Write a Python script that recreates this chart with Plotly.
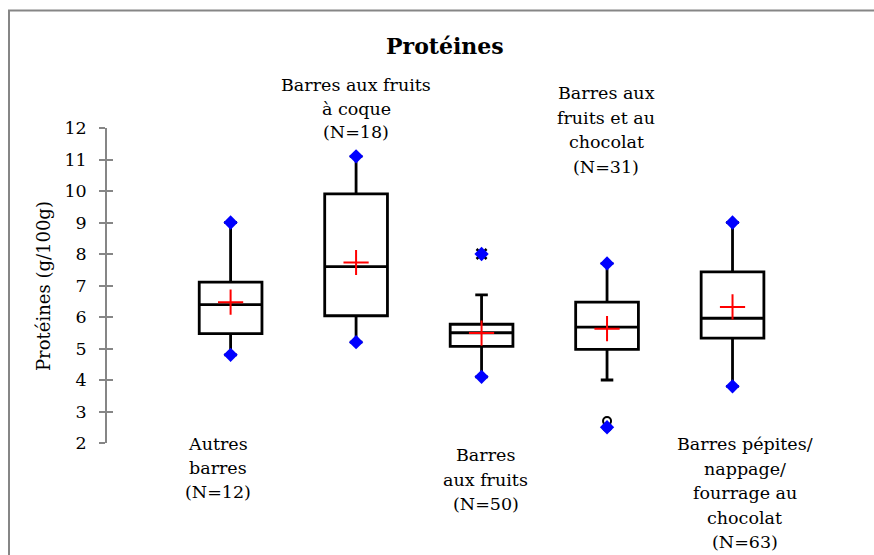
import plotly.graph_objects as go

# ---------------- data ----------------
categories = ["Autres barres", "Barres aux fruits à coque", "Barres aux fruits",
              "Barres aux fruits et au chocolat", "Barres pépites/nappage/fourrage au chocolat"]
label_lines = [
    ["Autres", "barres", "(N=12)"],
    ["Barres aux fruits", "à coque", "(N=18)"],
    ["Barres", "aux fruits", "(N=50)"],
    ["Barres aux", "fruits et au", "chocolat", "(N=31)"],
    ["Barres pépites/", "nappage/", "fourrage au", "chocolat", "(N=63)"],
]
q1 = [5.47, 6.04, 5.07, 4.97, 5.33]
median = [6.39, 7.60, 5.50, 5.68, 5.96]
q3 = [7.11, 9.91, 5.77, 6.47, 7.43]
lower_whisker = [4.8, 5.2, 4.1, 4.0, 3.8]
upper_whisker = [9.0, 11.1, 6.7, 7.7, 9.0]
means = [6.47, 7.73, 5.49, 5.63, 6.32]
minimum = [4.8, 5.2, 4.1, 2.5, 3.8]
maximum = [9.0, 11.1, 8.0, 7.7, 9.0]
outlier_x_cat = [2]
outlier_x_val = [8.0]
outlier_o_cat = [3, 3]
outlier_o_val = [2.7, 2.5]
y_ticks = [2, 3, 4, 5, 6, 7, 8, 9, 10, 11, 12]

# ---------------- layout helpers ----------------
W, H = 874, 555
ML, MR, MT, MB = 107, 16, 128, 112
PW, PH = W - ML - MR, H - MT - MB
FONT = "DejaVu Serif"
GRAY = "#868686"

def px_x(px):
    return (px - ML) / PW

def px_y(py):
    return (H - MB - py) / PH

xidx = list(range(len(categories)))

fig = go.Figure()

fig.add_trace(go.Box(
    x=xidx, q1=q1, median=median, q3=q3,
    lowerfence=lower_whisker, upperfence=upper_whisker,
    width=0.5, whiskerwidth=0.2,
    fillcolor="rgba(255,255,255,0)",
    line=dict(color="black", width=2.8),
    boxpoints=False, showlegend=False, hoverinfo="skip",
))

# outliers
fig.add_trace(go.Scatter(
    x=outlier_x_cat, y=outlier_x_val, mode="markers",
    marker=dict(symbol="x-thin", size=10, color="black", line=dict(color="black", width=2.5)),
    showlegend=False, cliponaxis=False,
))
fig.add_trace(go.Scatter(
    x=outlier_o_cat, y=outlier_o_val, mode="markers",
    marker=dict(symbol="circle-open", size=8, color="black", line=dict(color="black", width=2)),
    showlegend=False, cliponaxis=False,
))

# min / max
fig.add_trace(go.Scatter(
    x=xidx + xidx, y=minimum + maximum, mode="markers",
    marker=dict(symbol="diamond", size=11, color="#0000ff", line=dict(width=0)),
    showlegend=False, cliponaxis=False,
))

# means
fig.add_trace(go.Scatter(
    x=xidx, y=means, mode="markers",
    marker=dict(symbol="cross-thin", size=18, color="#ff0000", line=dict(color="#ff0000", width=2)),
    showlegend=False, cliponaxis=False,
))

# ---------------- annotations ----------------
label_shift = [-13, 0, 4, -1, 12]
label_top = [444, 84.5, 455, 93, 444]
line_gap = [24, 24, 24.5, 24.7, 24.5]
annotations = []
for i, lines in enumerate(label_lines):
    for j, t in enumerate(lines):
        annotations.append(dict(
            x=i, xref="x", xshift=label_shift[i],
            y=px_y(label_top[i] + j * line_gap[i]), yref="paper",
            text=t, showarrow=False, xanchor="center", yanchor="middle",
            font=dict(family=FONT, size=17.5, color="black"),
        ))
annotations.append(dict(
    x=px_x(445), y=px_y(46), xref="paper", yref="paper",
    text="<b>Protéines</b>", showarrow=False, xanchor="center", yanchor="middle",
    font=dict(family=FONT, size=22, color="black"),
))
annotations.append(dict(
    x=px_x(43), y=px_y(286), xref="paper", yref="paper",
    text="Protéines (g/100g)", textangle=-90, showarrow=False,
    xanchor="center", yanchor="middle",
    font=dict(family=FONT, size=18, color="black"),
))

fig.update_layout(
    width=W, height=H,
    margin=dict(l=ML, r=MR, t=MT, b=MB),
    paper_bgcolor="white", plot_bgcolor="white",
    showlegend=False,
    annotations=annotations,
    xaxis=dict(range=[-0.985, 5], visible=False, fixedrange=True),
    yaxis=dict(
        range=[2, 12], tickvals=y_ticks, ticks="outside", ticklen=6,
        tickwidth=1.5, tickcolor=GRAY, showline=True, linecolor=GRAY,
        linewidth=1.5, showgrid=False, zeroline=False,
        ticklabelstandoff=9,
        tickfont=dict(family=FONT, size=17.5, color="black"),
    ),
    yaxis2=dict(
        range=[2, 12], tickvals=y_ticks, ticks="inside", ticklen=6,
        tickwidth=1.5, tickcolor=GRAY, showline=False, showgrid=False,
        zeroline=False, showticklabels=False, overlaying="y", side="left",
    ),
    shapes=[dict(
        type="rect", xref="paper", yref="paper",
        x0=px_x(9), x1=px_x(890), y0=px_y(570), y1=px_y(10.5),
        line=dict(color=GRAY, width=2), fillcolor="rgba(0,0,0,0)", layer="below",
    )],
)

# dummy trace to activate yaxis2
fig.add_trace(go.Scatter(x=[None], y=[None], yaxis="y2", showlegend=False))

fig.write_html(
    "out.html",
    config={"displayModeBar": False},
    post_script="document.body.style.margin='0';document.body.style.overflow='hidden';",
)
